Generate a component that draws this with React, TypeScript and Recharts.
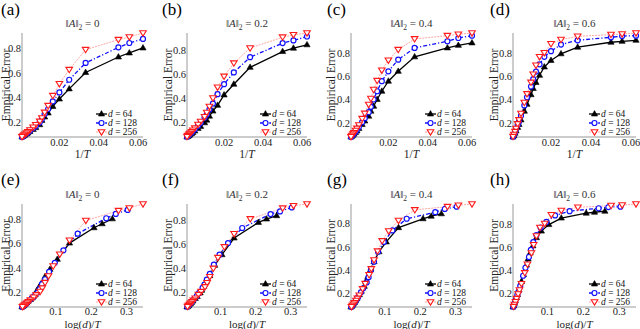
import React from 'react';
import { LineChart, Line, XAxis, YAxis } from 'recharts';

// sample sizes, shared by every panel
const T_VALUES = [16, 18, 20, 30, 40, 50, 60, 70, 80, 90, 100, 125, 150, 200, 250, 300, 400, 500, 700, 1000];
const D_VALUES = [64, 128, 256];
const NORM_LABELS = ['0', '0.2', '0.4', '0.6'];
const PANEL_LETTERS = ['a', 'b', 'c', 'd', 'e', 'f', 'g', 'h'];
const TOP_TICKS = [0.02, 0.04, 0.06];
const BOTTOM_TICKS = [0.1, 0.2, 0.3];
const Y_TICKS = [0.2, 0.4, 0.6, 0.8];

// empirical error, one value per T above
const errA0_d64 = [0.806, 0.765, 0.732, 0.605, 0.47, 0.387, 0.326, 0.272, 0.239, 0.211, 0.176, 0.152, 0.137, 0.12, 0.108, 0.1, 0.092, 0.086, 0.08, 0.075];
const errA0_d128 = [0.88, 0.847, 0.811, 0.683, 0.545, 0.441, 0.367, 0.305, 0.264, 0.223, 0.195, 0.165, 0.148, 0.127, 0.114, 0.105, 0.095, 0.088, 0.081, 0.076];
const errA0_d256 = [0.929, 0.896, 0.874, 0.792, 0.628, 0.512, 0.414, 0.332, 0.277, 0.231, 0.203, 0.175, 0.155, 0.132, 0.118, 0.108, 0.097, 0.09, 0.082, 0.077];

const errA02_d64 = [0.842, 0.814, 0.786, 0.655, 0.515, 0.426, 0.34, 0.292, 0.25, 0.217, 0.195, 0.165, 0.148, 0.127, 0.114, 0.105, 0.095, 0.088, 0.082, 0.077];
const errA02_d128 = [0.911, 0.878, 0.856, 0.739, 0.613, 0.515, 0.432, 0.354, 0.306, 0.264, 0.237, 0.195, 0.17, 0.142, 0.126, 0.115, 0.103, 0.095, 0.086, 0.079];
const errA02_d256 = [0.94, 0.925, 0.905, 0.815, 0.69, 0.58, 0.49, 0.4, 0.33, 0.28, 0.245, 0.205, 0.18, 0.15, 0.132, 0.12, 0.107, 0.098, 0.088, 0.08];

const errA04_d64 = [0.886, 0.865, 0.843, 0.766, 0.642, 0.557, 0.471, 0.4, 0.342, 0.3, 0.257, 0.215, 0.185, 0.15, 0.13, 0.117, 0.103, 0.094, 0.085, 0.078];
const errA04_d128 = [0.948, 0.928, 0.9, 0.843, 0.742, 0.642, 0.557, 0.471, 0.4, 0.337, 0.291, 0.24, 0.205, 0.163, 0.14, 0.125, 0.108, 0.098, 0.088, 0.079];
const errA04_d256 = [0.971, 0.96, 0.948, 0.92, 0.828, 0.737, 0.651, 0.562, 0.485, 0.408, 0.357, 0.28, 0.235, 0.18, 0.152, 0.134, 0.114, 0.102, 0.09, 0.08];

const errA06_d64 = [0.914, 0.905, 0.897, 0.854, 0.797, 0.74, 0.683, 0.611, 0.549, 0.497, 0.443, 0.36, 0.3, 0.225, 0.185, 0.16, 0.13, 0.11, 0.09, 0.077];
const errA06_d128 = [0.954, 0.95, 0.94, 0.914, 0.877, 0.82, 0.771, 0.706, 0.643, 0.577, 0.514, 0.42, 0.35, 0.26, 0.21, 0.18, 0.142, 0.118, 0.095, 0.079];
const errA06_d256 = [0.977, 0.968, 0.963, 0.948, 0.92, 0.883, 0.806, 0.771, 0.697, 0.62, 0.549, 0.45, 0.375, 0.28, 0.225, 0.19, 0.15, 0.123, 0.098, 0.08];

const ERRORS = [
  [errA0_d64, errA0_d128, errA0_d256],
  [errA02_d64, errA02_d128, errA02_d256],
  [errA04_d64, errA04_d128, errA04_d256],
  [errA06_d64, errA06_d128, errA06_d256],
];

// plot-area boxes in page pixels
const COL_LEFT = [22, 187, 351, 513];
const COL_RIGHT = [143, 307, 472, 636];
const ROW_TOP = [33, 204];
const ROW_BOTTOM = [137, 307];
const YW = 22;
const MT = 6;
const MR = 6;
const XH = 14;

const SERIF = 'Liberation Serif, Times New Roman, serif';
const tickStyle = { fontSize: 10.5, fill: '#222', fontFamily: SERIF };

const TriUp = ({ cx, cy }: any) => (
  <path d={`M${cx},${cy - 3.4} L${cx + 3.1},${cy + 2} L${cx - 3.1},${cy + 2} Z`} fill="#000" stroke="#000" strokeWidth={0.6} />
);
const Ring = ({ cx, cy }: any) => (
  <circle cx={cx} cy={cy} r={2.5} fill="#fff" stroke="#1010ff" strokeWidth={1.2} />
);
const TriDown = ({ cx, cy }: any) => (
  <path d={`M${cx - 3.3},${cy - 2.3} L${cx + 3.3},${cy - 2.3} L${cx},${cy + 3.1} Z`} fill="#fff" stroke="#ff1a1a" strokeWidth={1.1} />
);

const SERIES = [
  { stroke: '#000', width: 1.3, dash: undefined, Marker: TriUp },
  { stroke: '#1010ff', width: 1.3, dash: '4 2 1.2 2', Marker: Ring },
  { stroke: '#ffa8a8', width: 1, dash: '2 1', Marker: TriDown },
];

function Panel({ row, col }: { row: number; col: number }) {
  const left = COL_LEFT[col];
  const right = COL_RIGHT[col];
  const top = ROW_TOP[row];
  const bottom = ROW_BOTTOM[row];
  const width = right - left + YW + MR;
  const height = bottom - top + MT + XH;
  const series = D_VALUES.map((d, k) =>
    T_VALUES.map((t, i) => ({ x: row === 0 ? 1 / t : Math.log(d) / t, y: ERRORS[col][k][i] }))
  );
  return (
    <div style={{ position: 'absolute', left: left - YW, top: top - MT }}>
      <LineChart width={width} height={height} margin={{ top: MT, right: MR, bottom: 0, left: 0 }}>
        <XAxis
          type="number"
          dataKey="x"
          domain={['dataMin', 'dataMax']}
          ticks={row === 0 ? TOP_TICKS : BOTTOM_TICKS}
          tickFormatter={(v) => String(v)}
          height={XH}
          tickSize={0}
          tickMargin={row === 0 ? 1.5 : 0.5}
          tick={tickStyle}
          stroke="#999"
          interval={0}
        />
        <YAxis
          type="number"
          dataKey="y"
          domain={['dataMin', 'dataMax']}
          ticks={Y_TICKS}
          tickFormatter={(v) => String(v)}
          width={YW}
          tickSize={0}
          tickMargin={1}
          tick={tickStyle}
          stroke="#999"
          interval={0}
        />
        {series.map((data, k) => {
          const s = SERIES[k];
          const M = s.Marker;
          return (
            <Line
              key={k}
              data={data}
              dataKey="y"
              type="linear"
              stroke={s.stroke}
              strokeWidth={s.width}
              strokeDasharray={s.dash}
              dot={(p: any) => <M key={p.index} cx={p.cx} cy={p.cy} />}
              activeDot={false}
              isAnimationActive={false}
            />
          );
        })}
      </LineChart>
    </div>
  );
}

function Overlay() {
  const items: React.ReactNode[] = [];
  const titleX = [1, 162, 327, 490];
  const ylabelX = [5.5, 167.5, 330.5, 493.5];
  for (let row = 0; row < 2; row++) {
    for (let col = 0; col < 4; col++) {
      const left = COL_LEFT[col];
      const right = COL_RIGHT[col];
      const top = ROW_TOP[row];
      const bottom = ROW_BOTTOM[row];
      const cx = (left + right) / 2;
      const cy = (top + bottom) / 2;
      const key = `${row}-${col}`;
      items.push(
        <text key={'t' + key} x={titleX[col]} y={row === 0 ? 15 : 185} fontSize={17} fill="#000" fontFamily={SERIF}>
          ({PANEL_LETTERS[row * 4 + col]})
        </text>
      );
      items.push(
        <text key={'s' + key} x={cx} y={row === 0 ? 27 : 198} fontSize={11} fill="#333" textAnchor="middle" fontFamily={SERIF}>
          {'\u2016'}<tspan fontStyle="italic">A</tspan>{'\u2016'}<tspan dy={2.5} fontSize={7.5}>2</tspan>
          <tspan dy={-2.5}> = {NORM_LABELS[col]}</tspan>
        </text>
      );
      items.push(
        <text
          key={'y' + key}
          x={ylabelX[col]}
          y={cy}
          fontSize={11.5}
          fill="#222"
          textAnchor="middle"
          dominantBaseline="central"
          fontFamily={SERIF}
          transform={`rotate(-90 ${ylabelX[col]} ${cy})`}
        >
          Empirical Error
        </text>
      );
      items.push(
        row === 0 ? (
          <text key={'x' + key} x={cx} y={158} fontSize={11.5} fill="#222" textAnchor="middle" fontFamily={SERIF}>
            1/<tspan fontStyle="italic">T</tspan>
          </text>
        ) : (
          <text key={'x' + key} x={cx} y={327.5} fontSize={11} fill="#222" textAnchor="middle" fontFamily={SERIF}>
            log(<tspan fontStyle="italic">d</tspan>)/<tspan fontStyle="italic">T</tspan>
          </text>
        )
      );
      const rowsDy = [-23, -14, -5];
      D_VALUES.forEach((d, k) => {
        const s = SERIES[k];
        const M = s.Marker;
        const ly = bottom + rowsDy[k];
        items.push(
          <g key={'l' + key + k}>
            <line x1={right - 47} x2={right - 36} y1={ly} y2={ly} stroke={s.stroke} strokeWidth={s.width} strokeDasharray={s.dash} />
            <M cx={right - 41.5} cy={ly} />
            <text x={right - 35} y={ly + 3.2} fontSize={9.5} fill="#111" fontFamily={SERIF}>
              <tspan fontStyle="italic">d</tspan> = {d}
            </text>
          </g>
        );
      });
    }
  }
  return (
    <svg width={640} height={329} style={{ position: 'absolute', left: 0, top: 0, pointerEvents: 'none' }}>
      {items}
    </svg>
  );
}

export default function App() {
  return (
    <div style={{ position: 'fixed', left: 0, top: 0, width: 640, height: 329, background: '#fff', overflow: 'hidden' }}>
      {[0, 1].map((row) => [0, 1, 2, 3].map((col) => <Panel key={`${row}${col}`} row={row} col={col} />))}
      <Overlay />
    </div>
  );
}
